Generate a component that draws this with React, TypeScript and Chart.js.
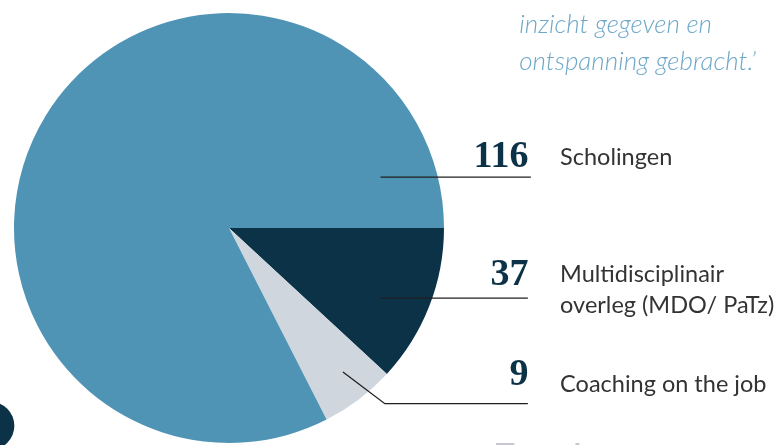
import React, { useEffect, useRef } from "react";
import { Chart, registerables } from "chart.js";

Chart.register(...registerables);

// Categories in drawing order (clockwise from 3 o'clock)
const categories = ["Multidisciplinair overleg (MDO/ PaTz)", "Coaching on the job", "Scholingen"];
// Numbers printed next to the slices
const counts = [37, 9, 116];
// Slice sizes as drawn in the picture (angular shares)
const sliceShares = [19, 9, 132];
const sliceColors = ["#0c3248", "#cfd6dd", "#5094b5"];
// Label text lines
const labelLines = [["Multidisciplinair", "overleg (MDO/ PaTz)"], ["Coaching on the job"], ["Scholingen"]];
const quoteLines = ["inzicht gegeven en", "ontspanning gebracht.\u2019"];
const totalTitle = "Totaal";

const annotations = {
  id: "annotations",
  afterDraw(chart: any) {
    const ctx = chart.ctx as CanvasRenderingContext2D;
    const arc: any = chart.getDatasetMeta(0).data[0];
    const cx = arc.x;
    const cy = arc.y;
    const r = arc.outerRadius;
    ctx.save();

    // decorative dark circle bottom-left
    ctx.fillStyle = "#0c3248";
    ctx.beginPath();
    ctx.arc(cx - 1.11 * r, cy + 0.92 * r, 24, 0, Math.PI * 2);
    ctx.fill();

    // leader lines
    ctx.strokeStyle = "#1e1e1e";
    ctx.lineWidth = 1.3;
    const lineEnd = cx + 1.39 * r;
    const ys = [cy + 0.326 * r, cy + 0.817 * r, cy - 0.237 * r];
    ctx.beginPath();
    ctx.moveTo(cx + 0.705 * r, ys[2]);
    ctx.lineTo(lineEnd + 3, ys[2]);
    ctx.stroke();
    ctx.beginPath();
    ctx.moveTo(cx + 0.705 * r, ys[0]);
    ctx.lineTo(lineEnd, ys[0]);
    ctx.stroke();
    ctx.beginPath();
    ctx.moveTo(cx + 0.53 * r, cy + 0.67 * r);
    ctx.lineTo(cx + 0.725 * r, ys[1]);
    ctx.lineTo(lineEnd, ys[1]);
    ctx.stroke();

    // numbers and labels
    const numBase = [cy + 0.265 * r, cy + 0.73 * r, cy - 0.284 * r];
    const labBase = [cy + 0.25 * r, cy + 0.763 * r, cy - 0.293 * r];
    const numX = cx + 1.393 * r;
    const labX = cx + 1.54 * r;
    counts.forEach((c, i) => {
      ctx.fillStyle = "#0c3248";
      ctx.font = 'bold 38px "Liberation Serif", serif';
      ctx.textAlign = "right";
      ctx.textBaseline = "alphabetic";
      ctx.fillText(String(c), numX, numBase[i]);
      ctx.fillStyle = "#333333";
      ctx.font = '23.5px Lato, sans-serif';
      ctx.textAlign = "left";
      labelLines[i].forEach((t, j) => {
        ctx.fillText(t, labX, labBase[i] + j * 31);
      });
    });

    // quote text top-right
    ctx.fillStyle = "#6ea8c8";
    ctx.font = 'italic 300 26px Lato, sans-serif';
    ctx.textAlign = "left";
    quoteLines.forEach((t, j) => {
      ctx.fillText(t, cx + 1.35 * r, 33 + j * 37);
    });

    // partially visible title at bottom
    ctx.fillStyle = "#c8c8d4";
    ctx.font = 'bold 32px Lato, sans-serif';
    ctx.fillText(totalTitle, cx + 1.24 * r, cy + r + 24);

    ctx.restore();
  },
};

export default function App() {
  const ref = useRef<HTMLCanvasElement | null>(null);
  useEffect(() => {
    if (!ref.current) return;
    const chart = new Chart(ref.current, {
      type: "pie",
      data: {
        labels: categories,
        datasets: [
          {
            data: sliceShares,
            backgroundColor: sliceColors,
            borderWidth: 0,
            hoverOffset: 0,
            offset: 0,
          },
        ],
      },
      options: {
        responsive: false,
        animation: false,
        rotation: 90,
        layout: { padding: { left: 14, right: 332, top: 13, bottom: 2 } },
        plugins: { legend: { display: false }, tooltip: { enabled: false } },
        events: [],
      },
      plugins: [annotations],
    });
    return () => chart.destroy();
  }, []);
  return (
    <div style={{ position: "fixed", left: 0, top: 0, width: 776, height: 445, background: "#fff", overflow: "hidden" }}>
      <canvas ref={ref} width={776} height={445} style={{ display: "block" }} />
    </div>
  );
}
